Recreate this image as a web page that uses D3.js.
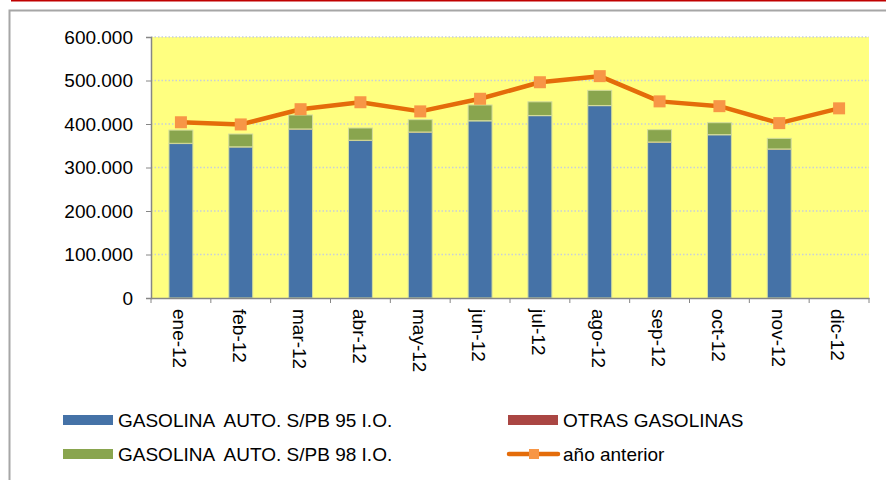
<!DOCTYPE html>
<html>
<head>
<meta charset="utf-8">
<script src="https://cdn.jsdelivr.net/npm/d3@7"></script>
<style>
  body { margin: 0; background: #fff; }
  svg { display: block; font-family: 'Liberation Sans', Arial, sans-serif; }
</style>
</head>
<body>
<div id="chart"></div>
<script>
var months = ['ene-12', 'feb-12', 'mar-12', 'abr-12', 'may-12', 'jun-12',
  'jul-12', 'ago-12', 'sep-12', 'oct-12', 'nov-12', 'dic-12']

// GASOLINA AUTO. S/PB 95 I.O.
var gas95 = [355000, 347000, 388000, 362000, 381000, 407000,
  419000, 442000, 358000, 375000, 342000, 0]
// OTRAS GASOLINAS (almost nothing)
var otras = [600, 600, 600, 600, 600, 600, 600, 600, 600, 600, 600, 0]
// GASOLINA AUTO. S/PB 98 I.O.
var gas98 = [30400, 29400, 32100, 28200, 28400, 36100,
  31400, 34800, 28400, 27400, 24400, 0]
// año anterior
var anterior = [404000, 399000, 434000, 450000, 429000, 458000,
  496000, 510000, 452000, 441000, 402000, 436000]

var yTicks = [0, 100000, 200000, 300000, 400000, 500000, 600000]

var width = 886
var height = 480
var margin = { top: 37, left: 151, right: 17, bottom: 182 }
var innerW = width - margin.left - margin.right
var innerH = height - margin.top - margin.bottom
var fontSize = 19

var svg = d3
  .select('#chart')
  .append('svg')
  .attr('width', width)
  .attr('height', height)

// frame
svg.append('line')
  .attr('x1', 11).attr('x2', width).attr('y1', 0.75).attr('y2', 0.75)
  .attr('stroke', '#c00000').attr('stroke-width', 1.5)
svg.append('rect')
  .attr('x', 9.5).attr('y', 10.5)
  .attr('width', width).attr('height', height)
  .attr('fill', 'none').attr('stroke', '#a6a6a6').attr('stroke-width', 2)

var g = svg.append('g')
  .attr('transform', 'translate(' + margin.left + ',' + margin.top + ')')

var x = d3.scaleBand().domain(months).range([0, innerW]).paddingInner(0.6).paddingOuter(0.3)
var xPoint = d3.scalePoint().domain(months).range([0, innerW]).padding(0.5)
var y = d3.scaleLinear().domain([0, 600000]).range([innerH, 0])

g.append('rect')
  .attr('width', innerW).attr('height', innerH)
  .attr('fill', '#ffff80')

// gridlines
g.selectAll('.grid')
  .data(yTicks.slice(1))
  .enter()
  .append('line')
  .attr('class', 'grid')
  .attr('x1', 0).attr('x2', innerW)
  .attr('y1', d => y(d)).attr('y2', d => y(d))
  .attr('stroke', '#c8cfd8').attr('stroke-width', 1.3)
  .attr('stroke-dasharray', '1.5,2')

// stacked bars
var stackData = months.map((m, i) => ({ month: m, g95: gas95[i], otras: otras[i], g98: gas98[i] }))
var series = d3.stack().keys(['g95', 'otras', 'g98'])(stackData)
var colors = { g95: '#4572a7', otras: '#aa4643', g98: '#89a54e' }

series.forEach(s => {
  g.selectAll('.bar-' + s.key)
    .data(s)
    .enter()
    .append('rect')
    .attr('x', d => x(d.data.month))
    .attr('y', d => y(d[1]))
    .attr('width', x.bandwidth())
    .attr('height', d => y(d[0]) - y(d[1]))
    .attr('fill', colors[s.key])
    .attr('stroke', d => (d[1] - d[0] > 0 ? '#d4dd9c' : 'none'))
    .attr('stroke-width', s.key === 'otras' ? 0 : 1)
})

// año anterior line
var line = d3.line()
  .x((d, i) => xPoint(months[i]))
  .y(d => y(d))

g.append('path')
  .datum(anterior)
  .attr('d', line)
  .attr('fill', 'none')
  .attr('stroke', '#e46c0a')
  .attr('stroke-width', 4.5)
  .attr('stroke-linejoin', 'round')

g.selectAll('.marker')
  .data(anterior)
  .enter()
  .append('rect')
  .attr('class', 'marker')
  .attr('x', (d, i) => xPoint(months[i]) - 6)
  .attr('y', d => y(d) - 6)
  .attr('width', 12).attr('height', 12)
  .attr('fill', '#f79646')

// y axis
var yAxis = g.append('g')
  .call(d3.axisLeft(y).tickValues(yTicks).tickSize(5)
    .tickFormat(d => d === 0 ? '0' : d3.format(',')(d).replace(/,/g, '.')))
yAxis.select('.domain').attr('stroke', '#868686').attr('stroke-width', 1.5)
yAxis.selectAll('.tick line').attr('stroke', '#868686')
yAxis.selectAll('.tick text')
  .attr('x', -18)
  .attr('font-size', fontSize)
  .attr('font-family', "'Liberation Sans', Arial, sans-serif")
  .attr('fill', '#000')

// x axis
var xAxis = g.append('g')
  .attr('transform', 'translate(0,' + innerH + ')')
  .call(d3.axisBottom(x).tickSize(0).tickSizeOuter(0))
xAxis.select('.domain').attr('stroke', '#868686').attr('stroke-width', 1.5)
xAxis.selectAll('.tick text')
  .attr('font-size', fontSize)
  .attr('font-family', "'Liberation Sans', Arial, sans-serif")
  .attr('fill', '#000')
  .attr('text-anchor', 'start')
  .attr('transform', 'rotate(90)')
  .attr('y', 0)
  .attr('x', 11)
  .attr('dy', '0.35em')
xAxis.selectAll('.tick').attr('transform', d => 'translate(' + (xPoint(d) - 1) + ',0)')

var step = innerW / months.length
g.selectAll('.xtick')
  .data(d3.range(months.length + 1))
  .enter()
  .append('line')
  .attr('x1', d => d * step).attr('x2', d => d * step)
  .attr('y1', innerH).attr('y2', innerH + 5)
  .attr('stroke', '#868686')

// legend
var legendItems = [
  { label: 'GASOLINA  AUTO. S/PB 95 I.O.', color: '#4572a7', type: 'bar', x: 63, y: 420 },
  { label: 'OTRAS GASOLINAS', color: '#aa4643', type: 'bar', x: 508, y: 420 },
  { label: 'GASOLINA  AUTO. S/PB 98 I.O.', color: '#89a54e', type: 'bar', x: 63, y: 454 },
  { label: 'año anterior', color: '#e46c0a', type: 'line', x: 508, y: 454 }
]

var legend = svg.selectAll('.legend')
  .data(legendItems)
  .enter()
  .append('g')
  .attr('transform', d => 'translate(' + d.x + ',' + d.y + ')')

legend.filter(d => d.type === 'bar')
  .append('rect')
  .attr('x', 0).attr('y', -5)
  .attr('width', 50).attr('height', 10)
  .attr('fill', d => d.color)

legend.filter(d => d.type === 'line')
  .append('line')
  .attr('x1', 1).attr('x2', 50)
  .attr('stroke', d => d.color)
  .attr('stroke-width', 4.5)
  .attr('stroke-linecap', 'round')

legend.filter(d => d.type === 'line')
  .append('rect')
  .attr('x', 21).attr('y', -5)
  .attr('width', 10).attr('height', 10)
  .attr('fill', '#f79646')

legend.append('text')
  .attr('x', 55)
  .attr('dy', '0.35em')
  .attr('font-size', fontSize)
  .attr('xml:space', 'preserve')
  .style('white-space', 'pre')
  .attr('fill', '#000')
  .text(d => d.label)
</script>
</body>
</html>
